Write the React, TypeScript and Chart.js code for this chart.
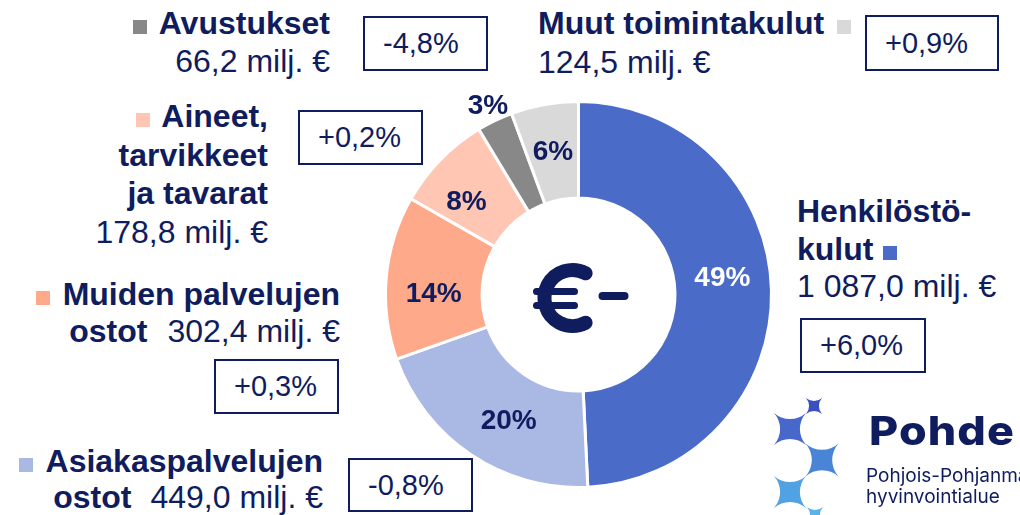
import React, { useEffect, useRef } from "react";
import { Chart, registerables } from "chart.js";

Chart.register(...registerables);

// ---- data ----
const categories: string[][] = [
  ["Henkilöstö-", "kulut"],
  ["Asiakaspalvelujen", "ostot"],
  ["Muiden palvelujen", "ostot"],
  ["Aineet,", "tarvikkeet", "ja tavarat"],
  ["Avustukset"],
  ["Muut toimintakulut"],
];
const values: number[] = [1087.0, 449.0, 302.4, 178.8, 66.2, 124.5];
const changes: number[] = [6.0, -0.8, 0.3, 0.2, -4.8, 0.9];
const unit = "milj. €";

// ---- style ----
const colors = ["#4a6bc7", "#aab8e4", "#ffa98b", "#ffc6b4", "#888888", "#d9d9d9"];
const NAVY = "#0f1c5e";
const FONT = "'Liberation Sans', Arial, Helvetica, sans-serif";

const fmtValue = (v: number) => {
  const [i, d] = v.toFixed(1).split(".");
  return i.replace(/\B(?=(\d{3})+(?!\d))/g, " ") + "," + d + " " + unit;
};
const fmtChange = (c: number) =>
  (c > 0 ? "+" : c < 0 ? "-" : "") + Math.abs(c).toFixed(1).replace(".", ",") + "%";

const sliceLabels = {
  id: "sliceLabels",
  afterDatasetsDraw(chart: any) {
    const ctx: CanvasRenderingContext2D = chart.ctx;
    const meta = chart.getDatasetMeta(0);
    const data = chart.data.datasets[0].data as number[];
    const total = data.reduce((a, b) => a + b, 0);
    ctx.save();
    ctx.font = `bold 28px ${FONT}`;
    ctx.textAlign = "center";
    ctx.textBaseline = "middle";
    let cx = 0, cy = 0;
    meta.data.forEach((arc: any, i: number) => {
      const p = arc.getProps(["x", "y", "startAngle", "endAngle", "innerRadius", "outerRadius"], true);
      cx = p.x; cy = p.y;
      const share = data[i] / total;
      const span = p.endAngle - p.startAngle;
      // larger slices: label sits a little before the middle of the arc
      const nudge = span > (25 * Math.PI) / 180 ? (-5 * Math.PI) / 180 : 0;
      const mid = (p.startAngle + p.endAngle) / 2 + nudge;
      const r = share < 0.04 ? p.outerRadius + 16 : (p.innerRadius + p.outerRadius) / 2;
      ctx.fillStyle = i === 0 ? "#ffffff" : NAVY;
      ctx.fillText(Math.round(share * 100) + "%", p.x + Math.cos(mid) * r, p.y + Math.sin(mid) * r);
    });
    // centre euro sign with minus
    ctx.strokeStyle = NAVY;
    ctx.lineCap = "round";
    ctx.lineWidth = 14;
    ctx.beginPath();
    ctx.arc(cx - 6, cy + 3.5, 28, (-62 * Math.PI) / 180, (62 * Math.PI) / 180, true);
    ctx.stroke();
    ctx.lineWidth = 7;
    ctx.beginPath();
    ctx.moveTo(cx - 42, cy - 3);
    ctx.lineTo(cx - 4, cy - 3);
    ctx.moveTo(cx - 42, cy + 11);
    ctx.lineTo(cx - 4, cy + 11);
    ctx.stroke();
    ctx.lineWidth = 8;
    ctx.beginPath();
    ctx.moveTo(cx + 24, cy + 1.5);
    ctx.lineTo(cx + 46, cy + 1.5);
    ctx.stroke();
    ctx.restore();
  },
};

const SIZE = 32;
const LH = 38;
const baseOff = (size: number, lh: number) => (lh - 1.117 * size) / 2 + 0.905 * size;

function Line(props: { x: number; baseline: number; align: "left" | "right"; children: any; size?: number }) {
  const size = props.size ?? SIZE;
  const style: any = {
    position: "absolute",
    top: props.baseline - baseOff(size, LH),
    fontSize: size,
    lineHeight: LH + "px",
    whiteSpace: "nowrap",
    textAlign: props.align,
  };
  if (props.align === "right") style.right = 1020 - props.x;
  else style.left = props.x;
  return <div style={style}>{props.children}</div>;
}

function Sq(props: { i: number; ml?: number; mr?: number }) {
  return (
    <span
      style={{
        display: "inline-block",
        width: 14,
        height: 14,
        background: colors[props.i],
        marginLeft: props.ml ?? 0,
        marginRight: props.mr ?? 0,
        verticalAlign: "baseline",
      }}
    />
  );
}

function Box(props: { x1: number; y1: number; x2: number; y2: number; i: number }) {
  return (
    <div
      style={{
        position: "absolute",
        left: props.x1,
        top: props.y1,
        width: props.x2 - props.x1,
        height: props.y2 - props.y1,
        boxSizing: "border-box",
        border: `2px solid ${NAVY}`,
        background: "#fff",
        display: "flex",
        alignItems: "center",
        paddingLeft: 18,
        fontSize: 29,
        whiteSpace: "nowrap",
      }}
    >
      {fmtChange(changes[props.i])}
    </div>
  );
}

function starPath(cx: number, cy: number, s: number) {
  const R = 1.5 * s;
  return (
    `M ${cx - s} ${cy - s} A ${R} ${R} 0 0 0 ${cx + s} ${cy - s} ` +
    `A ${R} ${R} 0 0 0 ${cx + s} ${cy + s} ` +
    `A ${R} ${R} 0 0 0 ${cx - s} ${cy + s} ` +
    `A ${R} ${R} 0 0 0 ${cx - s} ${cy - s} Z`
  );
}

export default function App() {
  const ref = useRef<HTMLCanvasElement | null>(null);
  useEffect(() => {
    if (!ref.current) return;
    const chart = new Chart(ref.current, {
      type: "doughnut",
      data: {
        labels: categories.map((c) => c.join(" ")),
        datasets: [
          {
            data: values,
            backgroundColor: colors,
            borderColor: "#ffffff",
            borderWidth: 3,
            hoverBorderWidth: 3,
            offset: 0,
            hoverOffset: 0,
          },
        ],
      },
      options: {
        responsive: false,
        animation: false,
        events: [],
        cutout: "50%",
        layout: { padding: 36 },
        plugins: { legend: { display: false }, tooltip: { enabled: false } },
      },
      plugins: [sliceLabels],
    } as any);
    return () => chart.destroy();
  }, []);

  const b = (t: string) => <b>{t}</b>;

  return (
    <div
      style={{
        position: "fixed",
        left: 0,
        top: 0,
        width: 1020,
        height: 515,
        overflow: "hidden",
        background: "#fff",
        fontFamily: FONT,
        color: NAVY,
      }}
    >
      {/* Avustukset */}
      <Line x={330} baseline={34} align="right">
        <Sq i={4} mr={12} />
        {b(categories[4][0])}
      </Line>
      <Line x={330} baseline={72} align="right">{fmtValue(values[4])}</Line>
      <Box x1={363} y1={16} x2={488} y2={71} i={4} />

      {/* Muut toimintakulut */}
      <Line x={538} baseline={34} align="left">
        {b(categories[5][0])}
        <Sq i={5} ml={13} />
      </Line>
      <Line x={538} baseline={73} align="left">{fmtValue(values[5])}</Line>
      <Box x1={865} y1={15} x2={999} y2={71} i={5} />

      {/* Aineet */}
      <Line x={268} baseline={127} align="right">
        <Sq i={3} mr={11} />
        {b(categories[3][0])}
      </Line>
      <Line x={268} baseline={166} align="right">{b(categories[3][1])}</Line>
      <Line x={268} baseline={204} align="right">{b(categories[3][2])}</Line>
      <Line x={268} baseline={243} align="right">{fmtValue(values[3])}</Line>
      <Box x1={298} y1={110} x2={423} y2={165} i={3} />

      {/* Muiden palvelujen ostot */}
      <Line x={340} baseline={305} align="right">
        <Sq i={2} mr={13} />
        {b(categories[2][0])}
      </Line>
      <Line x={340} baseline={342} align="right">
        {b(categories[2][1])}
        <span style={{ paddingLeft: 20 }}>{fmtValue(values[2])}</span>
      </Line>
      <Box x1={214} y1={359} x2={339} y2={414} i={2} />

      {/* Asiakaspalvelujen ostot */}
      <Line x={323} baseline={472} align="right">
        <Sq i={1} mr={13} />
        {b(categories[1][0])}
      </Line>
      <Line x={323} baseline={508} align="right">
        {b(categories[1][1])}
        <span style={{ paddingLeft: 19 }}>{fmtValue(values[1])}</span>
      </Line>
      <Box x1={348} y1={458} x2={473} y2={512} i={1} />

      {/* Henkilöstökulut */}
      <Line x={797} baseline={222} align="left">{b(categories[0][0])}</Line>
      <Line x={797} baseline={260} align="left">
        {b(categories[0][1])}
        <Sq i={0} ml={10} />
      </Line>
      <Line x={797} baseline={297} align="left">{fmtValue(values[0])}</Line>
      <Box x1={800} y1={318} x2={926} y2={373} i={0} />

      <canvas
        ref={ref}
        width={461}
        height={461}
        style={{ position: "absolute", left: 348, top: 64, width: 461, height: 461 }}
      />

      {/* Logo */}
      <svg
        width={1020}
        height={515}
        style={{ position: "absolute", left: 0, top: 0, pointerEvents: "none" }}
      >
        <path d={starPath(814, 406, 8)} fill="#3b50bf" />
        <path d={starPath(790, 429, 16)} fill="#4867cb" />
        <path d={starPath(822, 460, 16.5)} fill="#4a84d6" />
        <path d={starPath(790, 492, 16)} fill="#50a2e2" />
        <path d={starPath(815, 515, 8)} fill="#5ab4ea" />
      </svg>
      <div
        style={{
          position: "absolute",
          left: 869,
          top: 445 - 34.5,
          fontFamily: "Inter, 'Noto Sans', sans-serif",
          fontWeight: 800,
          fontSize: 40,
          lineHeight: "40px",
          letterSpacing: 1,
          whiteSpace: "nowrap",
          color: NAVY,
          transform: "scaleX(1.12)",
          transformOrigin: "left center",
        }}
      >
        Pohde
      </div>
      <div
        style={{
          position: "absolute",
          left: 866,
          top: 465,
          fontFamily: "Inter, 'Noto Sans', sans-serif",
          fontSize: 19,
          lineHeight: "21px",
          whiteSpace: "nowrap",
          color: NAVY,
        }}
      >
        Pohjois-Pohjanmaan
        <br />
        hyvinvointialue
      </div>
    </div>
  );
}
